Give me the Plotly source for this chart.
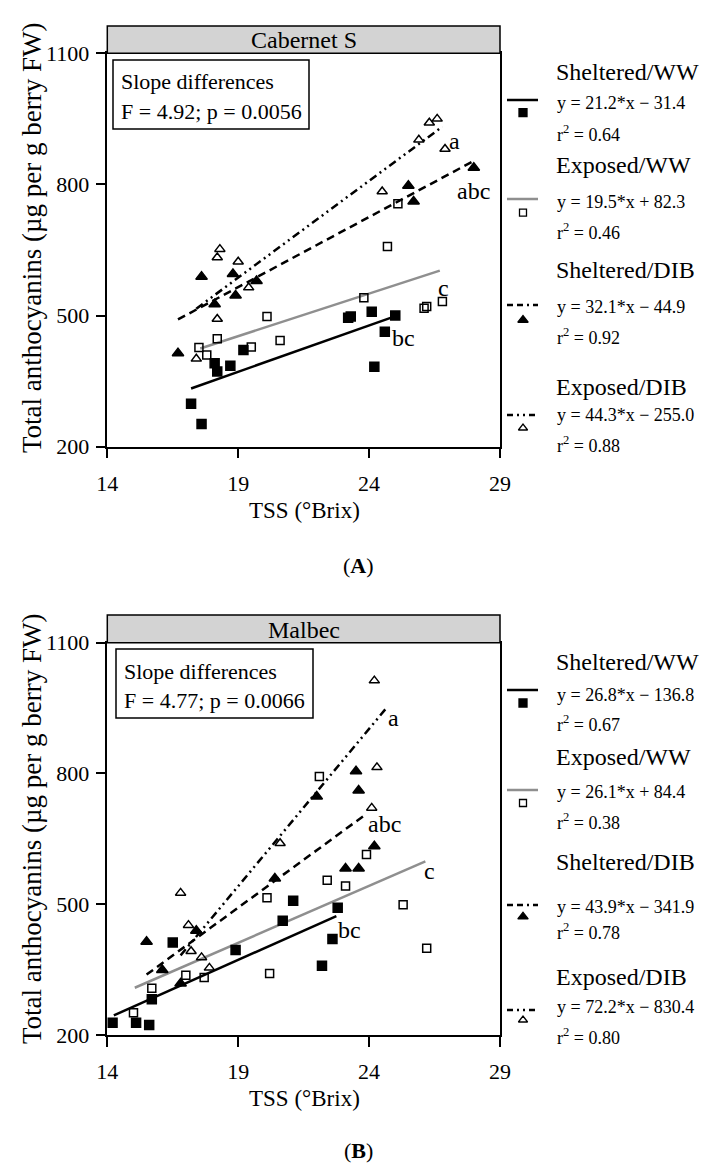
import plotly.graph_objects as go

W, H = 709, 1164
FONT = "Liberation Serif"

# ---------------- data: Cabernet S (panel A) ----------------
cab_sww_x = [17.2, 17.6, 18.1, 18.2, 18.7, 19.2, 23.2, 23.3, 24.1, 24.2, 24.6, 25.0]
cab_sww_y = [298, 252, 391, 372, 385, 421, 495, 498, 509, 383, 463, 500]
cab_eww_x = [17.5, 17.8, 18.2, 19.5, 20.1, 20.6, 23.8, 24.7, 25.1, 26.1, 26.2, 26.8]
cab_eww_y = [427, 410, 447, 428, 498, 443, 541, 658, 756, 517, 521, 532]
cab_sdib_x = [16.7, 17.6, 18.1, 18.8, 18.9, 19.7, 25.5, 25.7, 28.0]
cab_sdib_y = [414, 589, 526, 595, 546, 579, 797, 761, 838]
cab_edib_x = [17.4, 18.2, 18.2, 18.3, 19.0, 19.4, 24.5, 25.9, 26.3, 26.6, 26.9]
cab_edib_y = [401, 492, 633, 652, 623, 564, 784, 902, 941, 950, 881]

cab_slopes = [21.2, 19.5, 32.1, 44.3]
cab_intercepts = [-31.4, 82.3, -44.9, -255.0]
cab_fit_lo = [17.2, 17.55, 16.7, 17.4]
cab_fit_hi = [24.9, 26.7, 28.0, 26.8]
cab_eqs = ["y = 21.2*x − 31.4", "y = 19.5*x + 82.3", "y = 32.1*x − 44.9", "y = 44.3*x − 255.0"]
cab_r2 = ["0.64", "0.46", "0.92", "0.88"]
cab_letters = ["a", "abc", "c", "bc"]
cab_letter_x = [27.25, 28.0, 26.85, 25.3]
cab_letter_y = [900, 786, 562, 448]

# ---------------- data: Malbec (panel B) ----------------
mal_sww_x = [14.2, 15.1, 15.6, 15.7, 16.5, 18.9, 20.7, 21.1, 22.2, 22.6, 22.8]
mal_sww_y = [228, 228, 223, 282, 412, 395, 462, 508, 359, 420, 492]
mal_eww_x = [15.0, 15.7, 17.0, 17.7, 20.1, 20.2, 22.1, 22.4, 23.1, 23.9, 25.3, 26.2]
mal_eww_y = [251, 307, 337, 332, 515, 341, 793, 555, 542, 614, 499, 399]
mal_sdib_x = [15.5, 16.1, 16.8, 17.4, 20.4, 22.0, 23.1, 23.5, 23.6, 23.6, 24.2]
mal_sdib_y = [414, 349, 318, 439, 559, 747, 582, 805, 761, 582, 633]
mal_edib_x = [16.8, 17.1, 17.2, 17.6, 17.9, 20.6, 24.1, 24.2, 24.3]
mal_edib_y = [526, 452, 392, 378, 354, 640, 721, 1013, 814]

mal_slopes = [26.8, 26.1, 43.9, 72.2]
mal_intercepts = [-136.8, -84.4, -341.9, -830.4]  # drawn line (as plotted)
mal_fit_lo = [14.25, 15.05, 15.5, 16.8]
mal_fit_hi = [22.75, 26.15, 23.9, 24.65]
mal_eqs = ["y = 26.8*x − 136.8", "y = 26.1*x + 84.4", "y = 43.9*x − 341.9", "y = 72.2*x − 830.4"]
mal_r2 = ["0.67", "0.38", "0.78", "0.80"]
mal_letters = ["a", "abc", "c", "bc"]
mal_letter_x = [24.92, 24.6, 26.32, 23.26]
mal_letter_y = [927, 685, 577, 440]

series_names = ["Sheltered/WW", "Exposed/WW", "Sheltered/DIB", "Exposed/DIB"]
x_ticks = [14, 19, 24, 29]
y_ticks = [200, 500, 800, 1100]

# ---------------- styles ----------------
GRAY = "#8f8f8f"
line_colors = ["black", GRAY, "black", "black"]
line_dashes = ["solid", "solid", "8px,5px", "8px,4px,2px,4px,2px,4px"]
marker_symbols = ["square", "square-open", "triangle-up", "triangle-up-open"]
marker_sizes = [9, 8, 10, 9]


def pxx(x):
    return x / W


def pxy(y):
    return 1 - y / H


fig = go.Figure()

panels = [
    dict(xa="x", ya="y",
         pts=[(cab_sww_x, cab_sww_y), (cab_eww_x, cab_eww_y), (cab_sdib_x, cab_sdib_y), (cab_edib_x, cab_edib_y)],
         slopes=cab_slopes, ints=cab_intercepts, lo=cab_fit_lo, hi=cab_fit_hi,
         letters=cab_letters, lx=cab_letter_x, ly=cab_letter_y),
    dict(xa="x2", ya="y2",
         pts=[(mal_sww_x, mal_sww_y), (mal_eww_x, mal_eww_y), (mal_sdib_x, mal_sdib_y), (mal_edib_x, mal_edib_y)],
         slopes=mal_slopes, ints=mal_intercepts, lo=mal_fit_lo, hi=mal_fit_hi,
         letters=mal_letters, lx=mal_letter_x, ly=mal_letter_y),
]

annotations = []
for p in panels:
    # regression lines
    for i in range(4):
        xs = [p["lo"][i], p["hi"][i]]
        ys = [p["slopes"][i] * v + p["ints"][i] for v in xs]
        fig.add_trace(go.Scatter(x=xs, y=ys, mode="lines", xaxis=p["xa"], yaxis=p["ya"],
                                 line=dict(color=line_colors[i], width=2.5, dash=line_dashes[i]),
                                 showlegend=False, hoverinfo="skip"))
    # points
    for i in range(4):
        xs, ys = p["pts"][i]
        fig.add_trace(go.Scatter(x=xs, y=ys, mode="markers", xaxis=p["xa"], yaxis=p["ya"],
                                 marker=dict(symbol=marker_symbols[i], size=marker_sizes[i], color="black",
                                             line=dict(width=1.5, color="black")),
                                 name=series_names[i], showlegend=False))
    # significance letters
    for t, lx, ly in zip(p["letters"], p["lx"], p["ly"]):
        annotations.append(dict(xref=p["xa"], yref=p["ya"], x=lx, y=ly, text=t, showarrow=False,
                                xanchor="center", yanchor="middle",
                                font=dict(family=FONT, size=24, color="black")))

# ---------------- geometry ----------------
X0, X1 = 107.3, 500.0
panel_geo = [
    dict(top=53.3, bot=446.7, head=26.0, title="Cabernet S", head_y=40.5,
         box=(113, 60, 309, 129), box_t1=82, box_t2=112,
         stat="F = 4.92; p = 0.0056", ytitle_y=238, xtitle_y=510,
         label="A", label_y=565),
    dict(top=642.7, bot=1035.0, head=615.0, title="Malbec", head_y=629.5,
         box=(116, 649, 313, 718), box_t1=672, box_t2=700,
         stat="F = 4.77; p = 0.0066", ytitle_y=829, xtitle_y=1098,
         label="B", label_y=1150),
]

axis_common = dict(showline=True, linecolor="black", linewidth=1.5, mirror=True,
                   ticks="outside", ticklen=10, tickwidth=1.5, tickcolor="black",
                   showgrid=False, zeroline=False, automargin=False,
                   tickfont=dict(family=FONT, size=22, color="black"))

layout = dict(width=W, height=H, margin=dict(l=0, r=0, t=0, b=0, pad=0, autoexpand=False),
              autosize=False, paper_bgcolor="white", plot_bgcolor="rgba(0,0,0,0)", showlegend=False)

for k, g in enumerate(panel_geo):
    sx = "" if k == 0 else "2"
    layout["xaxis" + sx] = dict(domain=[pxx(X0), pxx(X1)], range=[14, 29], tickvals=x_ticks,
                                anchor="y" + sx, ticklabelstandoff=6, **axis_common)
    layout["yaxis" + sx] = dict(domain=[pxy(g["bot"]), pxy(g["top"])], range=[200, 1100],
                                tickvals=y_ticks, anchor="x" + sx, ticklabelstandoff=2, **axis_common)

# overlay axis for the hand-built legend swatches
layout["xaxis3"] = dict(domain=[0, 1], range=[0, W], visible=False, anchor="y3", automargin=False)
layout["yaxis3"] = dict(domain=[0, 1], range=[H, 0], visible=False, anchor="x3", automargin=False)

fig.update_layout(**layout)

shapes = []
for k, g in enumerate(panel_geo):
    # header strip
    shapes.append(dict(type="rect", xref="paper", yref="paper",
                       x0=pxx(X0), x1=pxx(X1), y0=pxy(g["top"]), y1=pxy(g["head"]),
                       fillcolor="#d3d3d3", line=dict(color="black", width=1.5), layer="above"))
    annotations.append(dict(xref="paper", yref="paper", x=pxx((X0 + X1) / 2), y=pxy(g["head_y"]),
                            text=g["title"], showarrow=False, xanchor="center", yanchor="middle",
                            font=dict(family=FONT, size=24, color="black")))
    # slope differences box
    bx0, by0, bx1, by1 = g["box"]
    shapes.append(dict(type="rect", xref="paper", yref="paper",
                       x0=pxx(bx0), x1=pxx(bx1), y0=pxy(by1), y1=pxy(by0),
                       fillcolor="white", line=dict(color="black", width=1.5), layer="above"))
    annotations.append(dict(xref="paper", yref="paper", x=pxx(bx0 + 6), y=pxy(g["box_t1"]),
                            text="Slope differences", showarrow=False, xanchor="left", yanchor="middle",
                            font=dict(family=FONT, size=22, color="black")))
    annotations.append(dict(xref="paper", yref="paper", x=pxx(bx0 + 6), y=pxy(g["box_t2"]),
                            text=g["stat"], showarrow=False, xanchor="left", yanchor="middle",
                            font=dict(family=FONT, size=22, color="black")))
    # y title
    annotations.append(dict(xref="paper", yref="paper", x=pxx(32), y=pxy(g["ytitle_y"]),
                            text="Total anthocyanins (µg per g berry FW)", textangle=-90,
                            showarrow=False, xanchor="center", yanchor="middle",
                            font=dict(family=FONT, size=27, color="black")))
    # x title
    annotations.append(dict(xref="paper", yref="paper", x=pxx(304), y=pxy(g["xtitle_y"]),
                            text="TSS (°Brix)", showarrow=False, xanchor="center", yanchor="middle",
                            font=dict(family=FONT, size=23, color="black")))
    # panel label
    annotations.append(dict(xref="paper", yref="paper", x=pxx(358), y=pxy(g["label_y"]),
                            text="(<b>" + g["label"] + "</b>)", showarrow=False,
                            xanchor="center", yanchor="middle",
                            font=dict(family=FONT, size=22, color="black")))

# ---------------- legends ----------------
legend_geo = [
    dict(name_y=[71.7, 165, 270, 386.7], eq_y=[103, 201.7, 306.7, 415], r2_y=[133, 231.7, 336.7, 445],
         line_y=[100, 199, 305, 415], mark_y=[112.7, 212.7, 320, 428], eqs=cab_eqs, r2=cab_r2),
    dict(name_y=[661.7, 756.7, 861.7, 976.7], eq_y=[695, 791.7, 906.7, 1006.7], r2_y=[723, 821.7, 931.7, 1036.7],
         line_y=[690, 790, 905, 1010], mark_y=[703, 803, 916.7, 1020], eqs=mal_eqs, r2=mal_r2),
]
legend_dashes = ["solid", "solid", "6px,4px,6px,4px,2px,4px", "6px,4px,2px,4px,2px,4px"]
for lg in legend_geo:
    for i in range(4):
        fig.add_trace(go.Scatter(x=[507, 538], y=[lg["line_y"][i]] * 2, mode="lines", xaxis="x3", yaxis="y3",
                                 line=dict(color=line_colors[i], width=2.5, dash=legend_dashes[i]),
                                 showlegend=False, hoverinfo="skip"))
        fig.add_trace(go.Scatter(x=[523], y=[lg["mark_y"][i]], mode="markers", xaxis="x3", yaxis="y3",
                                 marker=dict(symbol=marker_symbols[i], size=marker_sizes[i] - 1, color="black",
                                             line=dict(width=1.3, color="black")),
                                 showlegend=False, hoverinfo="skip"))
        annotations.append(dict(xref="paper", yref="paper", x=pxx(554), y=pxy(lg["name_y"][i]),
                                text=series_names[i], showarrow=False, xanchor="left", yanchor="middle",
                                font=dict(family=FONT, size=24, color="black")))
        annotations.append(dict(xref="paper", yref="paper", x=pxx(555), y=pxy(lg["eq_y"][i]),
                                text=lg["eqs"][i], showarrow=False, xanchor="left", yanchor="middle",
                                font=dict(family=FONT, size=18, color="black")))
        annotations.append(dict(xref="paper", yref="paper", x=pxx(555), y=pxy(lg["r2_y"][i]),
                                text="r<sup>2</sup> = " + lg["r2"][i], showarrow=False,
                                xanchor="left", yanchor="middle",
                                font=dict(family=FONT, size=18, color="black")))

fig.update_layout(shapes=shapes, annotations=annotations)
fig.write_html("out.html", config={"displayModeBar": False},
               post_script="document.body.style.margin='0';document.body.style.overflow='hidden';")
